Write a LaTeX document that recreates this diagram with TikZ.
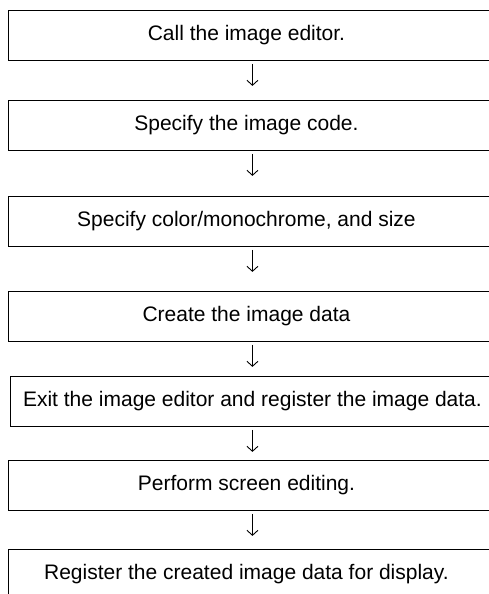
\documentclass[tikz,border=0pt]{standalone}
\usepackage{fontspec}
\setmainfont{Liberation Sans}
\usetikzlibrary{arrows.meta}
\begin{document}
\begin{tikzpicture}[x=1pt,y=-1pt,
  box/.style={draw, line width=0.9pt, minimum height=50pt, minimum width=492pt,
    inner sep=0pt, anchor=north west, font=\fontsize{21}{25}\selectfont},
  arr/.style={line width=0.9pt, -{Straight Barb[length=5pt,width=11pt]}}]
\useasboundingbox (0,0) rectangle (489,594);
\node[box] (b1) at (8,10)  {\hspace*{-16pt}Call the image editor.};
\node[box] (b2) at (8,100) {\hspace*{-16pt}Specify the image code.};
\node[box] (b3) at (8,196) {\hspace*{-16pt}Specify color/monochrome, and size};
\node[box] (b4) at (8,291) {\hspace*{-16pt}Create the image data};
\node[box, minimum width=490pt] (b5) at (10,376) {\hspace*{-6pt}Exit the image editor and register the image data.};
\node[box] (b6) at (8,460) {\hspace*{-16pt}Perform screen editing.};
\node[box] (b7) at (8,549) {\hspace*{-16pt}Register the created image data for display.};
\foreach \a/\s in {b1/-2,b2/-2,b3/-2,b4/-2,b5/-3,b6/-2} {
  \coordinate (e\a) at ([xshift=\s pt,yshift=-25pt]\a.south);
  \draw[arr] ([xshift=\s pt,yshift=-3pt]\a.south) -- (e\a);
}
\end{tikzpicture}
\end{document}
